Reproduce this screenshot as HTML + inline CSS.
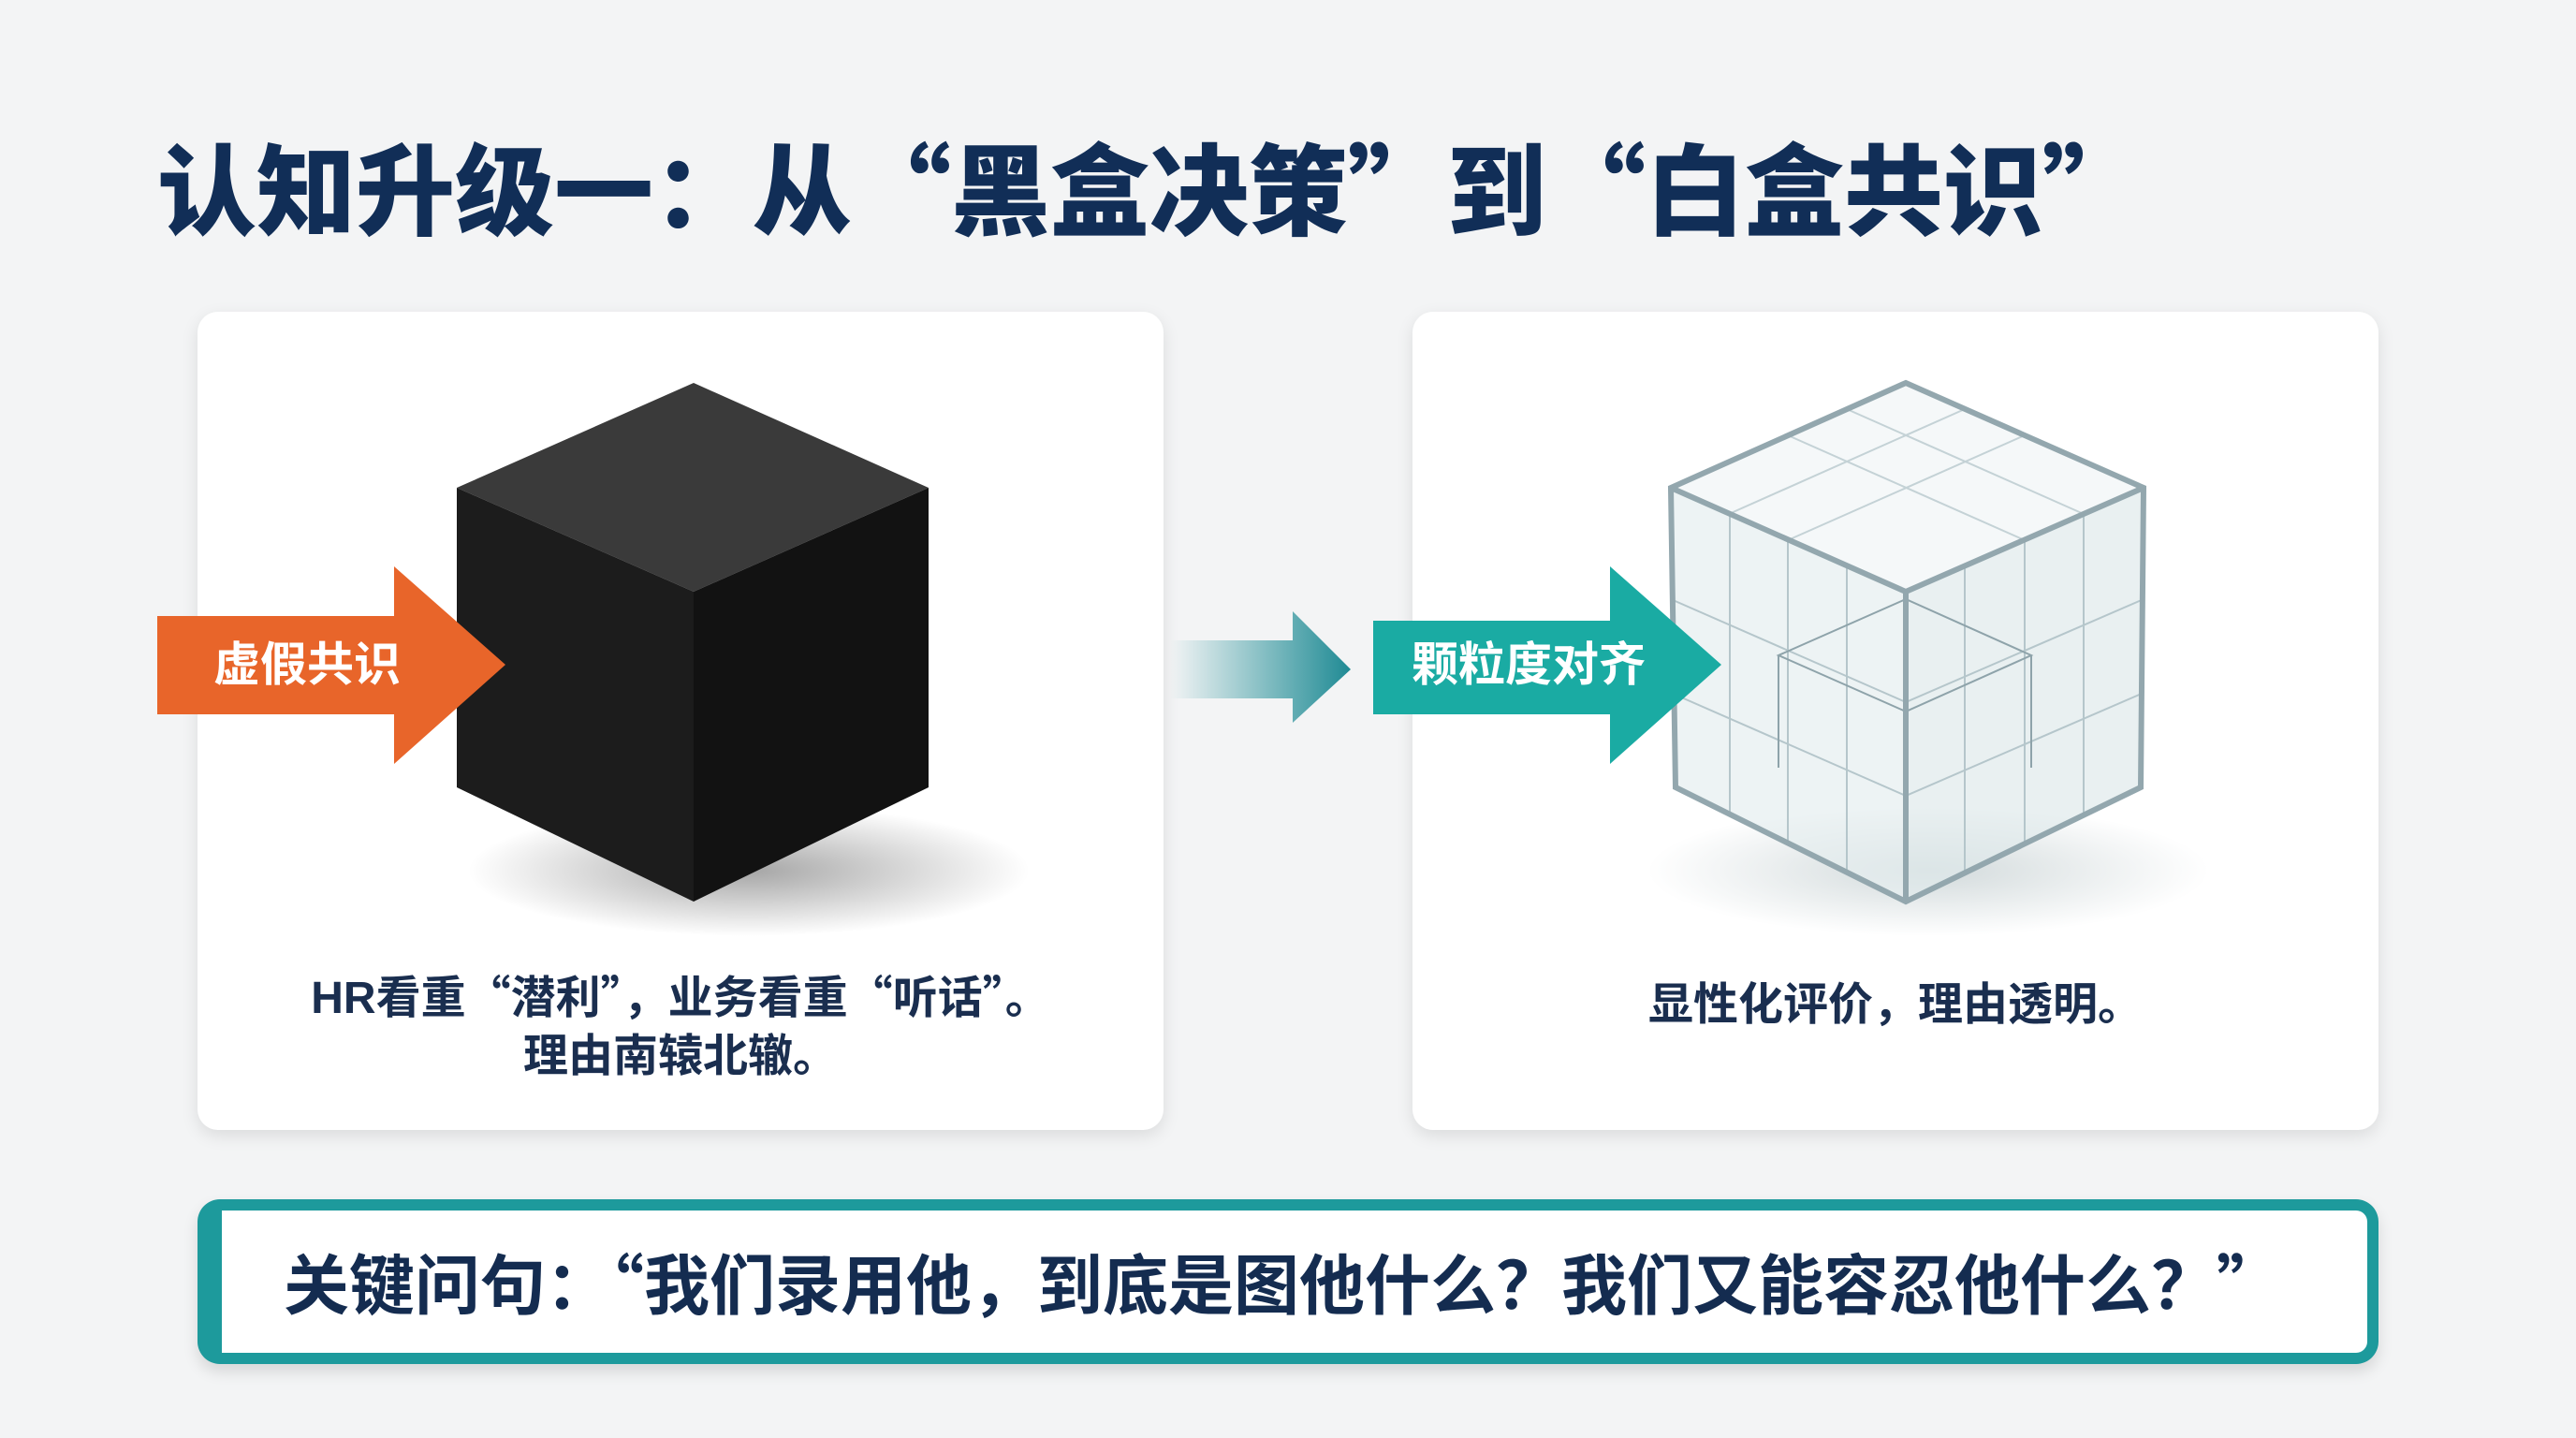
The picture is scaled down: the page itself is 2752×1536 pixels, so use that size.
<!DOCTYPE html>
<html><head><meta charset="utf-8">
<style>
html,body{margin:0;padding:0;}
body{width:2752px;height:1536px;background:#f3f4f5;position:relative;overflow:hidden;font-family:"Liberation Sans","Noto Sans CJK SC",sans-serif;}
.q{font-family:"Noto Sans CJK SC",sans-serif;}
.title{position:absolute;left:168px;top:132px;font-size:106px;font-weight:900;color:#112e57;letter-spacing:0px;white-space:nowrap;line-height:130px;}
.card{position:absolute;top:333px;width:1032px;height:874px;background:#fff;border-radius:22px;box-shadow:0 6px 18px rgba(0,0,0,0.10);}
.cap{position:absolute;left:0;width:100%;text-align:center;font-size:48px;font-weight:700;color:#1a2e4f;line-height:62px;}
.box{position:absolute;left:211px;top:1281px;width:2330px;height:176px;box-sizing:border-box;border:12px solid #1d9a9c;border-left-width:26px;border-radius:24px;background:#fff;box-shadow:0 8px 16px rgba(0,0,0,0.12);}
.box div{position:absolute;left:66px;top:0;line-height:152px;font-size:70px;font-weight:700;color:#142c50;white-space:nowrap;}
svg{position:absolute;left:0;top:0;}
.lbl{position:absolute;color:#fff;font-weight:700;font-size:50px;white-space:nowrap;line-height:60px;}
</style></head><body>
<div class="title">认知升级一：从<span class="q">“</span>黑盒决策<span class="q">”</span>到<span class="q">“</span>白盒共识<span class="q">”</span></div>
<div class="card" style="left:211px;"><div class="cap" style="top:697px;">HR看重<span class="q">“</span>潜利<span class="q">”</span>，业务看重<span class="q">“</span>听话<span class="q">”</span>。<br>理由南辕北辙。</div></div>
<div class="card" style="left:1509px;"><div class="cap" style="top:710px;">显性化评价，理由透明。</div></div>
<svg width="2752" height="1536" viewBox="0 0 2752 1536">
<defs>
<radialGradient id="sh" cx="0.5" cy="0.5" r="0.5"><stop offset="0" stop-color="#000" stop-opacity="0.35"/><stop offset="1" stop-color="#000" stop-opacity="0"/></radialGradient>
<radialGradient id="sh2" cx="0.5" cy="0.5" r="0.5"><stop offset="0" stop-color="#4a6a70" stop-opacity="0.25"/><stop offset="1" stop-color="#4a6a70" stop-opacity="0"/></radialGradient>
<linearGradient id="mg" x1="0" x2="1"><stop offset="0" stop-color="#1f8f96" stop-opacity="0"/><stop offset="1" stop-color="#1f8a94"/></linearGradient>
</defs>
<ellipse cx="800" cy="930" rx="300" ry="70" fill="url(#sh)"/>
<polygon points="741,409 992,521 741,632 488,521" fill="#3a3a3a"/>
<polygon points="488,521 741,632 741,963 488,841" fill="#1c1c1c"/>
<polygon points="741,632 992,521 992,841 741,963" fill="#121212"/>
<polygon points="168,658 421,658 421,605 540,710 421,816 421,763 168,763" fill="#e8652a"/>
<polygon points="1250,684 1381,684 1381,653 1443,715 1381,772 1381,746 1250,746" fill="url(#mg)"/>
<ellipse cx="2060" cy="930" rx="300" ry="70" fill="url(#sh2)"/>
<g stroke="#a3b3b9" fill="none" stroke-width="2">
<polygon points="2036,409 2290,521 2036,632 1785,521" fill="#f1f5f6" fill-opacity="0.7"/>
<polygon points="1785,521 2036,632 2036,963 1790,841" fill="#e6eef0" fill-opacity="0.7"/>
<polygon points="2036,632 2290,521 2287,841 2036,963" fill="#e0e9eb" fill-opacity="0.7"/>
<path d="M1910,465 L2163,577 M2163,465 L1910,577 M1973,437 L2226,549 M2099,437 L1847,549" stroke="#c4d2d6"/>
<path d="M1848,549 V870 M1910,577 V900 M1973,605 V932 M2099,605 V932 M2163,577 V900 M2226,549 V870" stroke="#b5c6cb"/>
<path d="M1785,640 L2036,750 L2290,640 M1785,740 L2036,850 L2290,740" stroke="#b5c6cb"/>
<polygon points="1900,700 2036,760 2170,700 2036,640" stroke="#8ea3aa"/>
<path d="M1900,700 V820 M2170,700 V820" stroke="#8ea3aa"/>
<polyline points="1785,521 2036,632 2290,521" stroke="#93a7ae" stroke-width="6"/>
<path d="M2036,632 V963" stroke="#93a7ae" stroke-width="6"/>
<polygon points="2036,409 2290,521 2287,841 2036,963 1790,841 1785,521" stroke="#93a7ae" stroke-width="6"/>
</g>
<polygon points="1467,663 1720,663 1720,605 1839,710 1720,816 1720,763 1467,763" fill="#1aaba3"/>
</svg>
<div class="lbl" style="left:228px;top:680px;">虚假共识</div>
<div class="lbl" style="left:1508px;top:680px;">颗粒度对齐</div>
<div class="box"><div>关键问句：<span class="q">“</span>我们录用他，到底是图他什么？我们又能容忍他什么？<span class="q">”</span></div></div>
</body></html>
